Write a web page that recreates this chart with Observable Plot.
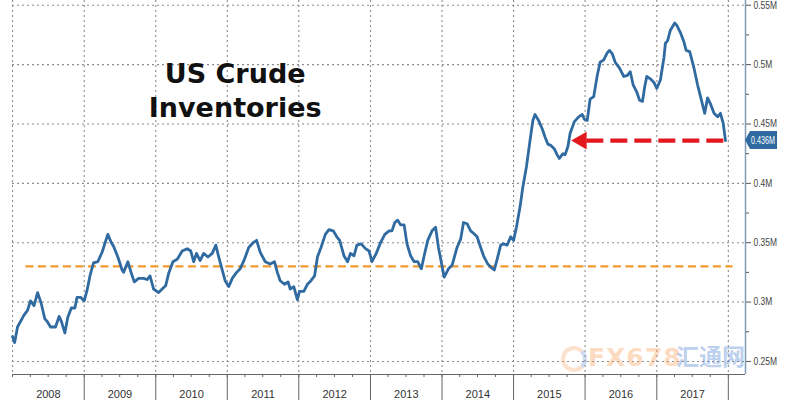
<!DOCTYPE html>
<html>
<head>
<meta charset="utf-8">
<script src="https://cdn.jsdelivr.net/npm/d3@7"></script>
<script src="https://cdn.jsdelivr.net/npm/@observablehq/plot@0.6"></script>
<style>
  html, body { margin: 0; padding: 0; background: #fff; }
  #chart { position: relative; width: 800px; height: 400px; overflow: hidden; }
  .wm { position: absolute; font-weight: bold; pointer-events: none; line-height: 1; }
  .wm1 { left: 588px; top: 345px; font-family: "DejaVu Sans", sans-serif; font-size: 25px; color: rgba(247, 160, 90, 0.40); letter-spacing: 1px; }
  .wm2 { left: 676px; top: 344px; font-family: "Noto Sans CJK SC", sans-serif; font-size: 23px; color: rgba(80, 130, 210, 0.40); }
  .ring { position: absolute; left: 561px; top: 346px; width: 18px; height: 18px; border-radius: 50%; border: 4px solid rgba(247, 170, 110, 0.35); border-right-color: rgba(120, 150, 210, 0.35); }
</style>
</head>
<body>
<div id="chart"></div>
<script>
// ---- Data ----
const years = [
  2008.00, 2008.03, 2008.07, 2008.16, 2008.21, 2008.25, 2008.30, 2008.35, 2008.40, 2008.45,
  2008.48, 2008.53, 2008.60, 2008.65, 2008.68, 2008.73, 2008.77, 2008.82, 2008.87, 2008.90,
  2008.95, 2009.00, 2009.04, 2009.08, 2009.13, 2009.19, 2009.25, 2009.33, 2009.38, 2009.41,
  2009.47, 2009.53, 2009.55, 2009.61, 2009.66, 2009.70, 2009.76, 2009.83, 2009.88, 2009.92,
  2009.97, 2010.04, 2010.14, 2010.18, 2010.24, 2010.30, 2010.37, 2010.44, 2010.49, 2010.53,
  2010.57, 2010.62, 2010.67, 2010.73, 2010.79, 2010.84, 2010.88, 2010.93, 2010.97, 2011.02,
  2011.07, 2011.13, 2011.18, 2011.24, 2011.30, 2011.36, 2011.41, 2011.46, 2011.53, 2011.60,
  2011.66, 2011.70, 2011.74, 2011.80, 2011.85, 2011.88, 2011.93, 2011.98, 2012.01, 2012.07,
  2012.12, 2012.17, 2012.22, 2012.26, 2012.31, 2012.37, 2012.42, 2012.48, 2012.53, 2012.57,
  2012.63, 2012.68, 2012.72, 2012.77, 2012.81, 2012.87, 2012.93, 2012.98, 2013.02, 2013.08,
  2013.14, 2013.20, 2013.26, 2013.30, 2013.34, 2013.38, 2013.42, 2013.47, 2013.51, 2013.56,
  2013.61, 2013.66, 2013.71, 2013.75, 2013.80, 2013.86, 2013.91, 2013.95, 2014.03, 2014.09,
  2014.14, 2014.21, 2014.26, 2014.30, 2014.35, 2014.40, 2014.44, 2014.49, 2014.54, 2014.58,
  2014.64, 2014.69, 2014.73, 2014.77, 2014.82, 2014.86, 2014.91, 2014.96, 2015.00, 2015.04,
  2015.09, 2015.13, 2015.18, 2015.23, 2015.27, 2015.30, 2015.35, 2015.40, 2015.44, 2015.48,
  2015.52, 2015.57, 2015.61, 2015.64, 2015.69, 2015.72, 2015.76, 2015.79, 2015.85, 2015.91,
  2015.96, 2015.99, 2016.03, 2016.07, 2016.12, 2016.17, 2016.21, 2016.26, 2016.31, 2016.34,
  2016.38, 2016.42, 2016.48, 2016.54, 2016.59, 2016.63, 2016.67, 2016.72, 2016.76, 2016.80,
  2016.83, 2016.86, 2016.91, 2016.96, 2017.00, 2017.05, 2017.10, 2017.12, 2017.15, 2017.19,
  2017.25, 2017.28, 2017.33, 2017.38, 2017.41, 2017.46, 2017.52, 2017.57, 2017.62, 2017.67,
  2017.71, 2017.75, 2017.80, 2017.85, 2017.89, 2017.93, 2017.96
];
const inventories = [
  0.271, 0.266, 0.279, 0.289, 0.293, 0.301, 0.297, 0.308, 0.299, 0.286,
  0.284, 0.279, 0.279, 0.288, 0.284, 0.274, 0.287, 0.295, 0.295, 0.304,
  0.304, 0.301, 0.310, 0.322, 0.333, 0.334, 0.342, 0.357, 0.350, 0.347,
  0.338, 0.327, 0.325, 0.334, 0.324, 0.317, 0.320, 0.320, 0.319, 0.322,
  0.311, 0.308, 0.314, 0.324, 0.334, 0.336, 0.343, 0.345, 0.343, 0.334,
  0.341, 0.335, 0.341, 0.338, 0.341, 0.348, 0.338, 0.327, 0.318, 0.313,
  0.320, 0.325, 0.328, 0.336, 0.346, 0.350, 0.352, 0.342, 0.334, 0.332,
  0.334, 0.325, 0.318, 0.315, 0.317, 0.311, 0.313, 0.302, 0.309, 0.309,
  0.315, 0.318, 0.322, 0.338, 0.346, 0.357, 0.361, 0.360, 0.355, 0.352,
  0.339, 0.334, 0.341, 0.339, 0.348, 0.349, 0.345, 0.343, 0.334, 0.341,
  0.350, 0.357, 0.360, 0.360, 0.367, 0.369, 0.365, 0.365, 0.349, 0.339,
  0.334, 0.334, 0.328, 0.339, 0.352, 0.360, 0.363, 0.346, 0.321, 0.328,
  0.331, 0.346, 0.353, 0.367, 0.366, 0.360, 0.358, 0.355, 0.346, 0.339,
  0.332, 0.329, 0.327, 0.336, 0.348, 0.349, 0.348, 0.355, 0.352, 0.363,
  0.380, 0.397, 0.414, 0.436, 0.453, 0.458, 0.453, 0.446, 0.439, 0.433,
  0.432, 0.429, 0.424, 0.421, 0.425, 0.424, 0.431, 0.442, 0.452, 0.456,
  0.458, 0.454, 0.453, 0.471, 0.473, 0.491, 0.502, 0.504, 0.510, 0.512,
  0.509, 0.502, 0.497, 0.490, 0.491, 0.494, 0.483, 0.477, 0.470, 0.469,
  0.481, 0.490, 0.488, 0.485, 0.480, 0.487, 0.506, 0.518, 0.520, 0.529,
  0.535, 0.533, 0.527, 0.519, 0.512, 0.511, 0.497, 0.483, 0.471, 0.459,
  0.472, 0.467, 0.459, 0.456, 0.459, 0.450, 0.436
];
const yearLabels = ["2008", "2009", "2010", "2011", "2012", "2013", "2014", "2015", "2016", "2017"];
const yTicks = [0.25, 0.3, 0.35, 0.4, 0.45, 0.5, 0.55];
const yMinorTicks = [0.275, 0.325, 0.375, 0.425, 0.475, 0.525];
const averageLevel = 0.33;
const averageSpan = [2008.18, 2018.06];
const latestValue = 0.436;
const latestLabel = "0.436M";
const arrowTail = 2017.93;
const arrowNeck = 2015.99;
const arrowHead = 2015.95;
const titleText = "US Crude\nInventories";
const titleAt = [2011.11, 0.479];
const xExtent = [2008.0, 2018.24];
const yExtent = [0.239, 0.554];

// ---- helpers ----
function toDate(y) {
  const yr = Math.floor(y + 1e-9);
  const a = Date.UTC(yr, 0, 1), b = Date.UTC(yr + 1, 0, 1);
  return new Date(a + (y - yr) * (b - a));
}
const series = years.map((y, i) => ({date: toDate(y), value: inventories[i]}));
const yearStarts = d3.utcYear.range(toDate(2008), toDate(2018.01));
const separators = yearStarts.slice(1);
const quarters = d3.utcMonth.every(3).range(toDate(2008), toDate(2018.01));
const midYears = yearLabels.map(y => toDate(+y + 0.5));

const lineColor = "#2f6aa1";
const gridStyle = {stroke: "#8c8c8c", strokeWidth: 1.1, strokeDasharray: "2,3"};
const labelFont = "'Liberation Sans', Arial, sans-serif";

const valueBox = (index, scales, values, dimensions) => {
  const y = scales.y(latestValue);
  const x = dimensions.width - dimensions.marginRight;
  const g = d3.create("svg:g");
  g.append("path")
    .attr("d", `M${x},${y} L${x + 5},${y - 9} H${x + 32} V${y + 9} H${x + 5} Z`)
    .attr("fill", lineColor);
  g.append("text")
    .attr("x", x + 6).attr("y", y).attr("dy", "0.36em")
    .attr("text-anchor", "start")
    .attr("fill", "#fff")
    .attr("font-family", labelFont)
    .attr("font-size", 10.5)
    .attr("textLength", 24)
    .attr("lengthAdjust", "spacingAndGlyphs")
    .text(latestLabel);
  return g.node();
};

const chart = Plot.plot({
  width: 800,
  height: 400,
  marginLeft: 12,
  marginRight: 55,
  marginTop: 0,
  marginBottom: 26,
  x: {type: "utc", domain: xExtent.map(toDate)},
  y: {domain: yExtent},
  style: {fontFamily: labelFont, fontSize: "11px", color: "#333", background: "#fff", overflow: "visible"},
  marks: [
    Plot.ruleX(yearStarts, {x: d => d, ...gridStyle}),
    Plot.ruleY(yTicks, {y: d => d, ...gridStyle}),
    Plot.ruleY([yExtent[0]], {stroke: "#666", strokeWidth: 1}),
    Plot.axisX({ticks: quarters, tickSize: 3, tickFormat: () => "", stroke: "#666", label: null}),
    Plot.axisX({ticks: separators, tickSize: 26, tickFormat: () => "", stroke: "#666", label: null}),
    Plot.axisX({ticks: midYears, tickSize: 0, tickPadding: 16, tickFormat: "%Y", fill: "#333", fontSize: 11, label: null}),
    Plot.ruleX([toDate(xExtent[1])], {stroke: "#7f9bb6", strokeWidth: 1.5}),
    Plot.axisY({anchor: "right", ticks: yTicks, tickSize: 5, tickPadding: 3, tickFormat: d => `${d}M`, stroke: "#556", fill: "#444", fontSize: 10.5, label: null}),
    Plot.axisY({anchor: "right", ticks: yMinorTicks, tickSize: 3, tickFormat: () => "", stroke: "#556", label: null}),
    Plot.link([{x1: toDate(averageSpan[0]), x2: toDate(averageSpan[1]), y: averageLevel}],
      {x1: "x1", x2: "x2", y1: "y", y2: "y", stroke: "#f29a2e", strokeWidth: 2.3, strokeDasharray: "8,4.5"}),
    Plot.line(series, {x: "date", y: "value", stroke: lineColor, strokeWidth: 2.8, strokeLinejoin: "round"}),
    Plot.link([{x1: toDate(arrowTail), x2: toDate(arrowNeck), y: latestValue}],
      {x1: "x1", x2: "x2", y1: "y", y2: "y", stroke: "#e2181d", strokeWidth: 4.2, strokeDasharray: "17,7"}),
    Plot.dot([{x: toDate(arrowHead), y: latestValue}],
      {x: "x", y: "y", symbol: "triangle", r: 6.6, rotate: -90, fill: "#e2181d", stroke: "none"}),
    Plot.text([{x: toDate(titleAt[0]), y: titleAt[1], t: titleText}],
      {x: "x", y: "y", text: "t", fontFamily: "'DejaVu Sans', Verdana, sans-serif", fontWeight: "bold", fontSize: 27, lineHeight: 1.26, fill: "#111", textAnchor: "middle"}),
    valueBox
  ]
});

const holder = document.getElementById("chart");
holder.appendChild(chart);
// condense the right-axis labels to the narrow look of the original
d3.select(chart).selectAll("g[aria-label='y-axis tick label'] text").each(function () {
  const w = this.getComputedTextLength();
  if (w > 0) { this.setAttribute("textLength", (w * 0.8).toFixed(1)); this.setAttribute("lengthAdjust", "spacingAndGlyphs"); }
});
const ring = document.createElement("div"); ring.className = "ring"; holder.appendChild(ring);
const w1 = document.createElement("div"); w1.className = "wm wm1"; w1.textContent = "FX678"; holder.appendChild(w1);
const w2 = document.createElement("div"); w2.className = "wm wm2"; w2.textContent = "汇通网"; holder.appendChild(w2);
</script>
</body>
</html>
